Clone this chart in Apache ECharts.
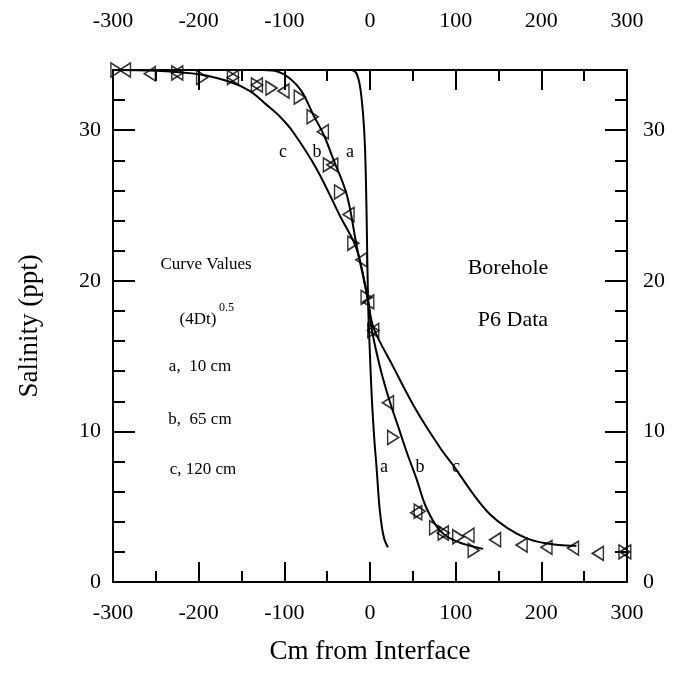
<!DOCTYPE html>
<html>
<head>
<meta charset="utf-8">
<script src="https://cdn.jsdelivr.net/npm/echarts@6/dist/echarts.min.js"></script>
<style>
  html, body { margin: 0; padding: 0; background: #fff; }
  #chart { width: 686px; height: 677px; }
</style>
</head>
<body>
<div id="chart"></div>
<script>
// salinity vs distance from interface, borehole P6

const xTicks = [-300, -200, -100, 0, 100, 200, 300];
const yTicks = [0, 10, 20, 30];

// model curves, (4Dt)^0.5 = 10, 65, 120 cm  -- [cm, ppt]
const curveA = [[-21, 34], [-16, 33.8], [-11.6, 32.9], [-8, 31], [-5.8, 28.8], [-4, 24.5],
  [-2.3, 18.7], [0, 15], [2.3, 12], [5, 9.5], [7.8, 7.5], [11, 5], [14, 3.6], [17, 2.8], [21, 2.3]];
const curveB = [[-125, 34], [-108, 33.9], [-95, 33.5], [-80, 32.6], [-66, 31], [-54, 29.7],
  [-43, 28.1], [-27, 25.7], [-15.5, 22.3], [-2.3, 18.7], [2, 16.8], [12, 14.2], [23, 12],
  [33, 10.3], [43, 8.6], [54, 6.9], [66, 4.9], [82, 3.4], [101, 2.7], [132, 2.2]];
const curveC = [[-300, 34], [-250, 33.95], [-198, 33.7], [-163, 33.2], [-140, 32.6], [-121, 31.7],
  [-105, 30.9], [-90, 29.9], [-62, 27.4], [-35, 24.3], [-15.5, 22.1], [-2.3, 18.7], [4, 16.9],
  [27, 14.3], [54, 11.4], [82, 8.9], [99, 7.6], [121, 5.8], [140, 4.5], [160, 3.6], [183, 2.9],
  [202, 2.6], [220, 2.45], [241, 2.4]];

// measured points, right-pointing and left-pointing triangles
const rightPts = [[-296, 34], [-225, 33.8], [-196, 33.5], [-160, 33.5], [-132, 33.0], [-115, 32.8],
  [-82, 32.2], [-67, 30.9], [-48, 27.7], [-35, 25.9], [-19.5, 22.5], [-4, 18.9], [3.8, 16.7],
  [27, 9.6], [58, 4.7], [76, 3.6], [86, 3.25], [103, 3.0], [121, 2.1], [297, 2.0]];
const leftPts = [[-286, 34], [-257, 33.75], [-225, 33.8], [-160, 33.5], [-132, 33.0], [-101, 32.6],
  [-55, 29.9], [-44, 27.7], [-25, 24.4], [-10, 21.4], [-2, 18.6], [3.8, 16.7], [21, 11.9],
  [54, 4.6], [85, 3.25], [115, 3.1], [146, 2.8], [177, 2.45], [206, 2.3], [237, 2.25],
  [266, 1.9], [298, 2.0]];

const FONT = 'Liberation Serif';

function xAxisCfg(pos) {
  return {
    type: 'value', position: pos, min: xTicks[0], max: xTicks[xTicks.length - 1], interval: 100,
    axisLine: { show: true, onZero: false, lineStyle: { color: '#000', width: 2 } },
    axisTick: { inside: true, length: 20, lineStyle: { color: '#000', width: 2 } },
    minorTick: { show: true, splitNumber: 2, length: 11, lineStyle: { color: '#000', width: 2 } },
    axisLabel: { color: '#000', fontFamily: FONT, fontSize: 22, margin: pos === 'top' ? 38 : 20 },
    splitLine: { show: false }
  };
}
function yAxisCfg(pos) {
  return {
    type: 'value', position: pos, min: 0, max: 34, interval: 10,
    axisLine: { show: true, onZero: false, lineStyle: { color: '#000', width: 2 } },
    axisTick: { inside: true, length: 22, lineStyle: { color: '#000', width: 2 } },
    minorTick: { show: true, splitNumber: 5, length: 12, lineStyle: { color: '#000', width: 2 } },
    axisLabel: {
      color: '#000', fontFamily: FONT, fontSize: 22, margin: pos === 'right' ? 16 : 12,
      showMaxLabel: false,
      formatter: v => (yTicks.indexOf(v) >= 0 ? String(v) : '')
    },
    splitLine: { show: false }
  };
}

const lineStyle = { color: '#000', width: 2 };
function curve(data) {
  return { type: 'line', data: data, smooth: 0.35, showSymbol: false, symbol: 'none',
    lineStyle: lineStyle, silent: true, z: 3 };
}
function pts(data, rot) {
  return { type: 'scatter', data: data, symbol: 'triangle', symbolSize: [14, 11], symbolRotate: rot,
    itemStyle: { color: 'transparent', borderColor: '#000', borderWidth: 1.6 }, z: 4 };
}

function label(x, y, s, size, align) {
  return { type: 'text', x: x, y: y,
    style: { text: s, fill: '#000', font: size + 'px "' + FONT + '"', align: align || 'center', verticalAlign: 'middle' } };
}

const chart = echarts.init(document.getElementById('chart'));
chart.setOption({
  animation: false,
  backgroundColor: '#fff',
  grid: { left: 113, right: 59, top: 70, bottom: 95 },
  xAxis: [
    Object.assign(xAxisCfg('bottom'), { name: 'Cm from Interface', nameLocation: 'middle', nameGap: 56,
      nameTextStyle: { color: '#000', fontFamily: FONT, fontSize: 27 } }),
    xAxisCfg('top')
  ],
  yAxis: [
    Object.assign(yAxisCfg('left'), { name: 'Salinity (ppt)', nameLocation: 'middle', nameGap: 70,
      nameTextStyle: { color: '#000', fontFamily: FONT, fontSize: 27 } }),
    yAxisCfg('right')
  ],
  series: [curve(curveA), curve(curveB), curve(curveC), pts(rightPts, -90), pts(leftPts, 90)],
  graphic: [
    label(206, 265, 'Curve Values', 17),
    label(198, 320, '(4Dt)', 17),
    label(219, 308, '0.5', 12, 'left'),
    label(200, 367, 'a,  10 cm', 17),
    label(200, 420, 'b,  65 cm', 17),
    label(203, 470, 'c, 120 cm', 17),
    label(508, 268, 'Borehole', 22),
    label(513, 320, 'P6 Data', 22),
    label(283, 152, 'c', 18),
    label(317, 152, 'b', 18),
    label(350, 152, 'a', 18),
    label(384, 467, 'a', 18),
    label(420, 467, 'b', 18),
    label(456, 467, 'c', 18)
  ]
});
</script>
</body>
</html>
